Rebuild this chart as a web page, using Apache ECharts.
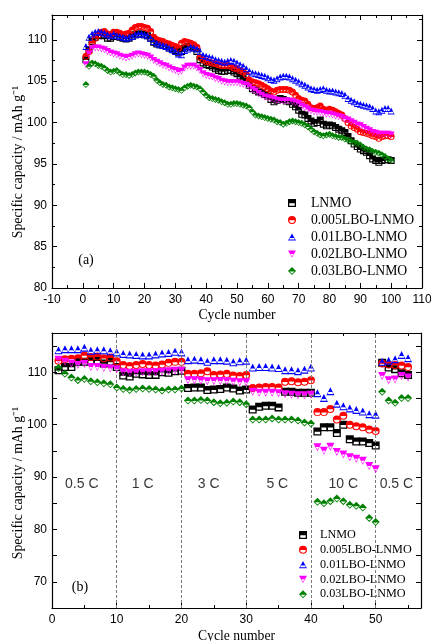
<!DOCTYPE html>
<html>
<head>
<meta charset="utf-8">
<script src="https://cdn.jsdelivr.net/npm/echarts@6/dist/echarts.min.js"></script>
<style>html,body{margin:0;padding:0;background:#fff}#c{width:431px;height:641px}</style>
</head>
<body>
<div id="c"></div>
<script>
// ---------- Data: panel (a) cycling, cycles 1..100 ----------
const seriesNames = ['LNMO', '0.005LBO-LNMO', '0.01LBO-LNMO', '0.02LBO-LNMO', '0.03LBO-LNMO'];
const cycA_LNMO = [107.6,108.8,109.8,110.3,110.5,110.6,110.5,110.2,110.2,110.4,
110.4,110.3,110.2,110.1,110.2,110.4,110.6,110.7,110.7,110.6,
110.5,110.2,109.7,109.5,109.4,109.3,109.2,109.0,108.9,108.7,
108.5,108.6,109.0,109.2,109.2,109.0,108.6,107.6,107.2,107.0,
106.9,106.7,106.5,106.3,106.2,106.2,106.3,106.3,106.1,105.9,
105.6,105.3,105.0,104.5,104.1,103.9,103.7,103.6,103.4,103.2,
102.8,102.5,102.7,102.9,102.8,102.6,102.5,102.2,101.9,101.5,
101.0,100.9,100.5,100.2,99.9,100.0,100.3,99.8,99.6,99.7,
99.6,99.4,99.2,99.0,98.8,98.3,97.8,97.4,97.1,96.8,
96.6,96.4,96.0,95.6,95.4,95.2,95.4,95.5,95.5,95.4];
const cycA_005 = [108.0,108.6,109.6,110.2,110.6,110.9,111.0,110.7,110.6,110.9,
110.9,110.8,110.6,110.7,110.8,111.2,111.5,111.6,111.6,111.5,
111.4,111.0,110.3,110.0,109.9,109.8,109.6,109.5,109.3,109.2,
109.0,109.6,109.8,109.7,109.6,109.4,109.1,107.9,107.6,107.4,
107.3,107.2,107.1,107.0,106.9,106.9,106.9,106.8,106.6,106.5,
106.3,106.1,105.8,105.1,104.9,104.8,104.7,104.5,104.3,104.1,
103.8,103.7,103.9,104.0,104.0,104.0,103.9,103.7,103.3,102.9,
102.7,102.6,102.2,101.8,101.7,101.8,102.0,101.6,101.5,101.6,
101.5,101.3,101.1,100.9,100.5,100.0,99.6,99.4,99.2,98.9,
98.8,98.7,98.6,98.4,98.3,98.1,98.3,98.4,98.4,98.3];
const cycA_01 = [109.2,110.3,110.7,110.9,111.0,110.9,110.8,110.6,110.5,110.7,
110.5,110.4,110.3,110.2,110.3,110.4,110.6,110.7,110.7,110.6,
110.5,110.2,109.8,109.6,109.4,109.3,109.2,109.0,108.8,108.6,
108.3,108.2,108.7,108.9,109.1,109.0,108.9,108.6,108.1,108.0,
107.9,107.8,107.6,107.5,107.4,107.3,107.4,107.5,107.4,107.2,
107.0,106.8,106.5,106.2,106.0,105.9,105.8,105.7,105.6,105.4,
105.2,105.1,105.3,105.5,105.6,105.6,105.5,105.3,105.1,104.9,
104.7,104.5,104.3,104.1,104.0,103.9,104.0,104.1,103.9,103.8,
103.8,103.7,103.6,103.5,103.3,102.9,102.7,102.5,102.3,102.2,
102.1,102.0,101.9,101.7,101.4,101.3,101.5,101.7,101.7,101.4];
const cycA_02 = [107.0,108.3,108.9,109.0,109.0,108.9,108.8,108.6,108.4,108.3,
108.2,108.0,107.9,107.8,107.9,108.0,108.2,108.3,108.2,108.1,
108.0,107.8,107.5,107.3,107.1,106.9,106.8,106.6,106.4,106.3,
106.1,106.2,106.6,106.8,106.8,106.8,106.6,106.3,105.9,105.7,
105.6,105.5,105.3,105.2,105.0,104.9,104.8,104.8,104.8,104.8,
104.7,104.6,104.5,104.3,104.0,103.8,103.5,103.3,103.1,103.0,
102.9,102.8,102.7,102.6,102.6,102.6,102.6,102.5,102.4,102.3,
102.0,101.8,101.6,101.4,101.3,101.2,101.2,101.1,101.0,101.0,
100.9,100.8,100.7,100.6,100.4,100.3,100.1,99.9,99.7,99.6,
99.4,99.2,99.0,98.8,98.7,98.6,98.6,98.6,98.6,98.5];
const cycA_03 = [104.6,106.8,107.2,107.1,106.9,106.8,106.6,106.3,106.1,106.2,
106.3,106.0,105.8,105.8,105.7,105.8,106.0,106.1,106.1,106.1,
106.0,105.8,105.6,105.1,104.8,104.6,104.5,104.3,104.2,104.1,
104.0,103.9,104.2,104.4,104.5,104.4,104.3,104.1,103.7,103.3,
103.0,102.9,102.8,102.7,102.5,102.4,102.2,102.2,102.3,102.3,
102.2,102.1,102.0,101.8,101.3,100.9,100.8,100.7,100.6,100.5,
100.4,100.3,100.1,100.0,99.8,99.9,100.1,100.2,100.1,100.0,
99.9,99.7,99.5,99.2,98.9,98.7,98.5,98.4,98.5,98.6,
98.4,98.3,98.2,98.2,98.0,97.9,97.7,97.6,97.5,97.3,
97.0,96.8,96.7,96.5,96.4,96.3,96.1,95.9,95.6,95.4];

// ---------- Data: panel (b) rate capability, cycles 1..55 ----------
const rate_LNMO = [110.4,111.0,111.0,112.0,112.0,112.2,112.2,111.7,112.0,111.0,
109.4,109.2,109.7,109.6,109.5,109.5,110.0,109.9,110.2,110.3,
107.0,107.1,107.1,106.6,106.7,106.8,107.1,106.9,106.5,106.7,
102.9,103.4,103.6,103.6,103.3,106.3,106.3,106.1,106.1,106.1,
98.7,99.5,99.5,98.4,100.0,97.2,96.8,96.8,96.5,96.0,
111.8,110.9,110.6,109.8,109.5];
const rate_005 = [112.2,112.5,112.6,112.7,113.2,112.9,113.0,112.7,112.8,112.1,
111.4,111.2,111.4,111.6,111.4,111.3,111.5,111.8,112.0,112.0,
109.7,109.7,109.8,110.2,109.5,109.6,109.7,109.4,109.3,109.5,
107.0,107.1,107.2,107.2,107.1,108.2,108.3,108.1,108.2,108.5,
102.4,102.4,103.0,101.0,101.7,100.0,99.7,99.5,99.1,98.8,
111.7,111.5,111.4,111.3,111.0];
const rate_01 = [114.2,114.4,114.4,114.4,114.7,114.1,114.2,114.2,114.0,113.8,
113.5,113.4,113.3,113.2,113.2,113.4,113.6,113.7,113.9,113.8,
112.3,112.4,112.3,112.0,112.3,112.3,112.2,111.9,112.1,112.2,
110.9,111.0,111.0,110.9,110.8,110.4,110.4,110.2,110.5,110.9,
106.0,105.1,106.4,104.0,103.5,103.1,102.8,102.5,102.0,101.9,
112.0,112.2,112.5,113.3,112.7];
const rate_02 = [112.4,112.0,111.7,111.4,111.6,111.0,111.0,110.8,110.7,110.6,
110.0,109.9,109.9,110.0,110.0,110.0,110.1,110.2,110.3,110.3,
108.5,108.5,108.4,108.3,108.3,108.3,108.3,108.2,108.1,108.1,
106.3,106.1,106.1,106.1,106.0,105.8,105.7,105.6,105.6,105.7,
95.7,95.0,95.8,94.8,94.3,93.8,93.5,93.1,92.1,91.5,
109.3,108.5,108.6,109.3,109.0];
const rate_03 = [110.8,109.7,109.0,108.5,108.7,108.3,108.1,107.9,107.7,107.1,
106.8,106.6,106.8,106.9,106.8,106.7,106.5,106.7,106.7,106.9,
104.6,104.6,104.7,104.6,104.3,104.1,104.2,104.4,104.3,103.9,
101.0,101.0,101.0,101.2,101.0,101.0,101.0,100.8,100.4,100.2,
85.3,85.0,85.4,85.9,85.4,84.7,84.5,84.2,82.2,81.4,
106.3,104.6,104.2,105.1,105.1];

const rateLabels = ['0.5 C', '1 C', '3 C', '5 C', '10 C', '0.5 C'];
const rateLabelX = [4.6, 14, 24.2, 34.8, 45, 53.2];
const rateLabelY = 88.7;
const rateBoundaries = [10, 20, 30, 40, 50];

// ---------- Styling ----------
const colors = ['#000000', '#ff0000', '#0000ff', '#ff00ff', '#008000'];
const symbols = [
  'path://M0,0H10V10H0Z M1.6,5.4V8.4H8.4V5.4Z',
  'path://M5,0A5,5 0 1,1 5,10A5,5 0 1,1 5,0Z M1.6,5.4A3.4,3.4 0 0,0 8.4,5.4Z',
  'path://M5,0L10,9L0,9Z M2.4,5.6L1.6,7.7L8.4,7.7L7.6,5.6Z',
  'path://M0,0L10,0L5,9Z M3.0,4.4L5,7.4L7.0,4.4Z',
  'path://M5,0L10,5L5,10L0,5Z M2.0,5.6L5,8.4L8,5.6Z'
];
const SERIF = 'Liberation Serif';
const SANS = 'Liberation Sans';

const cycA = [cycA_LNMO, cycA_005, cycA_01, cycA_02, cycA_03];
const rateB = [rate_LNMO, rate_005, rate_01, rate_02, rate_03];

function pairs(arr) { return arr.map((v, i) => [i + 1, v]); }

function axisCommon(extra) {
  return Object.assign({
    axisLine: { show: true, onZero: false, lineStyle: { color: '#000', width: 1.2 } },
    axisTick: { show: true, inside: true, length: 5, lineStyle: { color: '#000', width: 1 } },
    minorTick: { show: true, splitNumber: 2, length: 3, lineStyle: { color: '#000', width: 1 } },
    splitLine: { show: false },
    axisLabel: { color: '#000', fontFamily: SANS, fontSize: 12 }
  }, extra);
}

const series = [];
for (let i = 0; i < 5; i++) {
  series.push({
    name: seriesNames[i], type: 'scatter', xAxisIndex: 0, yAxisIndex: 0,
    symbol: symbols[i], symbolSize: 7,
    itemStyle: { color: colors[i], opacity: 1 },
    data: pairs(cycA[i]), z: 2 + i
  });
}
for (let i = 0; i < 5; i++) {
  series.push({
    name: seriesNames[i], type: 'scatter', xAxisIndex: 2, yAxisIndex: 2,
    symbol: symbols[i], symbolSize: 8,
    itemStyle: { color: colors[i], opacity: 1 },
    data: pairs(rateB[i]), z: 2 + i
  });
}
series.push({
  name: 'rateText', type: 'scatter', xAxisIndex: 2, yAxisIndex: 2,
  symbolSize: 0, silent: true,
  data: rateLabelX.map((x, i) => ({ value: [x, rateLabelY], label: { formatter: rateLabels[i] } })),
  label: { show: true, position: 'inside', color: '#000', fontFamily: SANS, fontSize: 14 },
  markLine: {
    silent: true, symbol: 'none', label: { show: false },
    lineStyle: { color: '#7a7a7a', type: [3, 2], width: 1 },
    data: rateBoundaries.map(v => ({ xAxis: v }))
  },
  z: 1
});

const option = {
  animation: false,
  backgroundColor: '#fff',
  grid: [
    { left: 52, right: 9, top: 15, height: 273, outerBoundsMode: 'none', containLabel: false },
    { left: 52, right: 10, top: 333, height: 275, outerBoundsMode: 'none', containLabel: false }
  ],
  xAxis: [
    axisCommon({ gridIndex: 0, type: 'value', position: 'bottom', min: -10, max: 110, interval: 10,
      axisLabel: { color: '#000', fontFamily: SANS, fontSize: 12, margin: 6 },
      name: 'Cycle number', nameLocation: 'middle', nameGap: 20,
      nameTextStyle: { color: '#000', fontFamily: SERIF, fontSize: 13.7 } }),
    axisCommon({ gridIndex: 0, type: 'value', position: 'top', min: -10, max: 110, interval: 10,
      axisLabel: { show: false } }),
    axisCommon({ gridIndex: 1, type: 'value', position: 'bottom', min: 0, max: 57, interval: 10,
      axisLabel: { color: '#000', fontFamily: SANS, fontSize: 12, margin: 6, showMaxLabel: false },
      name: 'Cycle number', nameLocation: 'middle', nameGap: 21,
      nameTextStyle: { color: '#000', fontFamily: SERIF, fontSize: 13.7 } }),
    axisCommon({ gridIndex: 1, type: 'value', position: 'top', min: 0, max: 57, interval: 10,
      axisLabel: { show: false } })
  ],
  yAxis: [
    axisCommon({ gridIndex: 0, type: 'value', position: 'left', min: 80, max: 113, interval: 5,
      axisLabel: { color: '#000', fontFamily: SANS, fontSize: 12, margin: 5, showMaxLabel: false } }),
    axisCommon({ gridIndex: 0, type: 'value', position: 'right', min: 80, max: 113, interval: 5,
      axisLabel: { show: false } }),
    axisCommon({ gridIndex: 1, type: 'value', position: 'left', min: 65, max: 117.5, interval: 5,
      minorTick: { show: false },
      axisLabel: { color: '#000', fontFamily: SANS, fontSize: 12, margin: 5,
        formatter: v => (v % 10 === 0 ? String(v) : '') } }),
    axisCommon({ gridIndex: 1, type: 'value', position: 'right', min: 65, max: 117.5, interval: 5,
      minorTick: { show: false }, axisLabel: { show: false } })
  ],
  legend: [
    { data: seriesNames, orient: 'vertical', left: 283, top: 191, itemWidth: 8, itemHeight: 8,
      itemGap: 3, selectedMode: false,
      textStyle: { color: '#000', fontFamily: SERIF, fontSize: 13.7, padding: [0, 0, 0, 10] } },
    { data: seriesNames, orient: 'vertical', left: 294, top: 524, itemWidth: 8, itemHeight: 8,
      itemGap: 2.8, selectedMode: false,
      textStyle: { color: '#000', fontFamily: SERIF, fontSize: 12.2, padding: [0, 0, 0, 8] } }
  ],
  graphic: [
    { type: 'text', x: 18, y: 162, rotation: Math.PI / 2,
      style: { text: 'Specific capacity / mAh g\u207B\u00B9', fill: '#000', font: '13.8px "Liberation Serif"',
        align: 'center', verticalAlign: 'middle' } },
    { type: 'text', x: 18, y: 483, rotation: Math.PI / 2,
      style: { text: 'Specific capacity / mAh g\u207B\u00B9', fill: '#000', font: '13.8px "Liberation Serif"',
        align: 'center', verticalAlign: 'middle' } },
    { type: 'text', x: 86, y: 260,
      style: { text: '(a)', fill: '#000', font: '14px "Liberation Serif"', align: 'center', verticalAlign: 'middle' } },
    { type: 'text', x: 80, y: 587,
      style: { text: '(b)', fill: '#000', font: '14px "Liberation Serif"', align: 'center', verticalAlign: 'middle' } }
  ],
  series: series
};

const chart = echarts.init(document.getElementById('c'), null, { renderer: 'canvas' });
chart.setOption(option);
</script>
</body>
</html>
